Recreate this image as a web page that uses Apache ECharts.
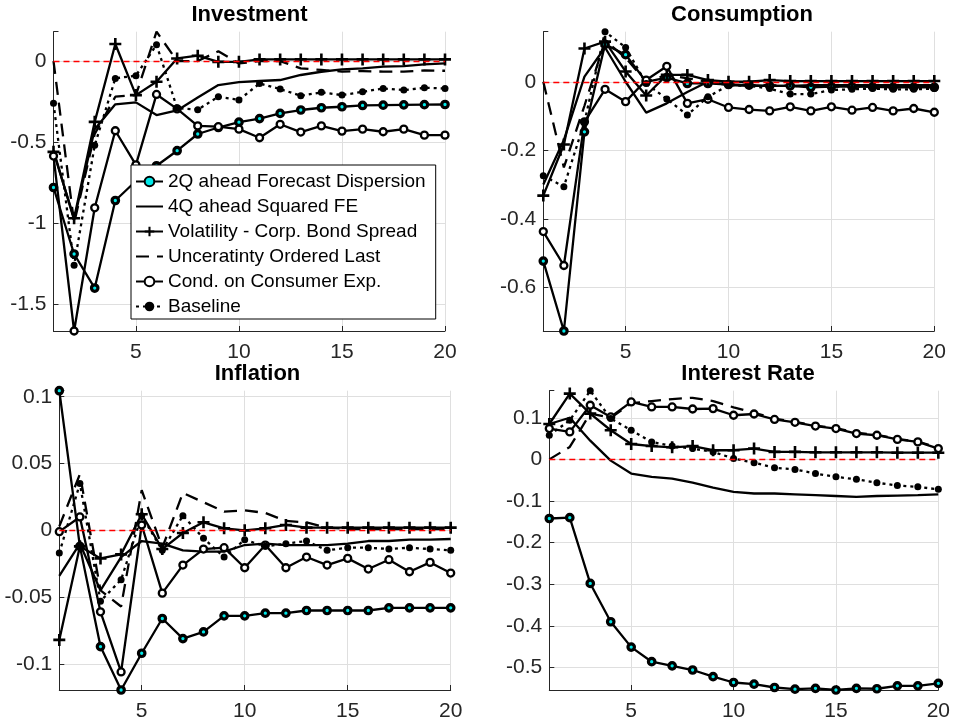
<!DOCTYPE html>
<html>
<head>
<meta charset="utf-8">
<script src="https://cdn.jsdelivr.net/npm/echarts@6/dist/echarts.min.js"></script>
<style>
html,body{margin:0;padding:0;background:#fff;}
#chart{width:953px;height:728px;}
</style>
</head>
<body>
<div id="chart"></div>
<script>
// ---------- data ----------
const periods = [1,2,3,4,5,6,7,8,9,10,11,12,13,14,15,16,17,18,19,20];
const seriesNames = ['2Q ahead Forecast Dispersion','4Q ahead Squared FE','Volatility - Corp. Bond Spread','Unceratinty Ordered Last','Cond. on Consumer Exp.','Baseline'];
const panelTitles = ['Investment','Consumption','Inflation','Interest Rate'];
const xTickStep = 5;
const yTickSteps = [0.5, 0.2, 0.05, 0.1];
const zeroLine = 0;

// Investment
const invFD2Q   = [-0.78,-1.19,-1.40,-0.86,-0.74,-0.646,-0.553,-0.45,-0.41,-0.377,-0.355,-0.323,-0.302,-0.288,-0.282,-0.274,-0.272,-0.270,-0.269,-0.268];
const invSqFE4Q = [-0.55,-0.98,-0.42,-0.267,-0.255,-0.333,-0.305,-0.225,-0.148,-0.13,-0.123,-0.117,-0.086,-0.066,-0.051,-0.045,-0.035,-0.031,-0.02,-0.014];
const invVol    = [-0.56,-0.97,-0.375,0.105,-0.21,-0.128,0.016,0.033,-0.005,-0.005,0.01,0.01,0.01,0.01,0.01,0.01,0.01,0.01,0.01,0.01];
const invUnc    = [0.0,-1.0,-0.45,-0.22,-0.21,0.181,0.0,0.0,0.06,-0.015,0.0,0.0,-0.045,-0.055,-0.065,-0.062,-0.065,-0.065,-0.058,-0.06];
const invCond   = [-0.586,-1.665,-0.905,-0.43,-0.64,-0.206,-0.295,-0.40,-0.405,-0.42,-0.473,-0.39,-0.438,-0.40,-0.432,-0.42,-0.436,-0.42,-0.457,-0.457];
const invBase   = [-0.26,-1.26,-0.52,-0.107,-0.09,0.10,-0.29,-0.30,-0.22,-0.24,-0.138,-0.173,-0.214,-0.193,-0.21,-0.19,-0.169,-0.179,-0.165,-0.169];

// Consumption
const conFD2Q   = [-0.523,-0.727,-0.146,0.109,0.079,0.0,0.012,-0.005,-0.005,-0.008,-0.01,-0.012,-0.012,-0.016,-0.014,-0.014,-0.015,-0.016,-0.016,-0.016];
const conSqFE4Q = [-0.30,-0.17,0.015,0.10,0.0,-0.09,-0.063,-0.03,0.0,-0.01,-0.012,-0.012,-0.012,-0.01,-0.01,-0.01,-0.01,-0.01,-0.01,-0.01];
const conVol    = [-0.332,-0.183,0.097,0.117,0.03,-0.04,0.02,0.02,0.005,0.0,0.0,0.005,0.002,0.002,0.002,0.002,0.002,0.002,0.002,0.002];
const conUnc    = [0.0,-0.25,-0.07,0.12,0.07,0.0,0.02,0.01,0.0,-0.005,-0.01,-0.01,-0.012,-0.014,-0.014,-0.014,-0.015,-0.015,-0.015,-0.015];
const conCond   = [-0.437,-0.536,-0.117,-0.022,-0.058,0.005,0.045,-0.063,-0.051,-0.075,-0.081,-0.085,-0.073,-0.085,-0.073,-0.083,-0.075,-0.085,-0.078,-0.089];
const conBase   = [-0.274,-0.306,-0.117,0.146,0.10,-0.005,-0.05,-0.097,-0.044,-0.01,-0.012,-0.02,-0.036,-0.036,-0.024,-0.022,-0.02,-0.022,-0.022,-0.02];

// Inflation
const infFD2Q   = [0.1045,-0.012,-0.087,-0.1195,-0.092,-0.066,-0.081,-0.076,-0.064,-0.064,-0.062,-0.062,-0.060,-0.060,-0.060,-0.060,-0.058,-0.058,-0.058,-0.058];
const infSqFE4Q = [-0.034,-0.010,-0.045,-0.02,-0.008,-0.010,-0.015,-0.016,-0.016,-0.011,-0.010,-0.011,-0.011,-0.011,-0.010,-0.008,-0.008,-0.007,-0.007,-0.0065];
const infVol    = [-0.082,-0.012,-0.021,-0.018,0.012,-0.014,-0.002,0.006,0.0015,0.0,0.0015,0.004,0.002,0.002,0.002,0.002,0.002,0.002,0.002,0.002];
const infUnc    = [0.003,0.042,-0.045,-0.057,0.030,-0.013,0.028,0.021,0.014,0.015,0.013,0.007,0.006,0.002,0.001,0.001,0.001,0.001,0.001,0.001];
const infCond   = [-0.001,0.010,-0.061,-0.106,0.004,-0.047,-0.026,-0.014,-0.013,-0.028,-0.011,-0.028,-0.020,-0.026,-0.021,-0.029,-0.022,-0.031,-0.024,-0.032];
const infBase   = [-0.017,0.035,-0.053,-0.037,0.011,-0.015,0.011,-0.006,-0.020,-0.007,-0.012,-0.010,-0.008,-0.015,-0.013,-0.013,-0.014,-0.013,-0.014,-0.015];

// Interest Rate
const irFD2Q    = [-0.142,-0.140,-0.298,-0.39,-0.451,-0.486,-0.496,-0.506,-0.522,-0.536,-0.54,-0.548,-0.552,-0.55,-0.554,-0.55,-0.551,-0.544,-0.544,-0.538];
const irSqFE4Q  = [0.085,0.10,0.045,-0.003,-0.034,-0.042,-0.046,-0.056,-0.068,-0.078,-0.082,-0.082,-0.084,-0.086,-0.088,-0.09,-0.088,-0.087,-0.086,-0.084];
const irVol     = [0.085,0.158,0.11,0.07,0.037,0.032,0.029,0.032,0.022,0.022,0.026,0.018,0.018,0.017,0.017,0.017,0.017,0.016,0.016,0.016];
const irUnc     = [0.0,0.03,0.11,0.10,0.135,0.14,0.145,0.148,0.14,0.125,0.112,0.098,0.09,0.081,0.075,0.064,0.059,0.049,0.043,0.028];
const irCond    = [0.074,0.066,0.13,0.102,0.138,0.126,0.126,0.121,0.122,0.106,0.109,0.096,0.089,0.08,0.074,0.062,0.058,0.048,0.042,0.026];
const irBase    = [0.058,0.094,0.165,0.098,0.07,0.042,0.032,0.026,0.018,0.002,-0.008,-0.02,-0.024,-0.034,-0.042,-0.048,-0.056,-0.063,-0.066,-0.072];

const panelData = [
  [invFD2Q, invSqFE4Q, invVol, invUnc, invCond, invBase],
  [conFD2Q, conSqFE4Q, conVol, conUnc, conCond, conBase],
  [infFD2Q, infSqFE4Q, infVol, infUnc, infCond, infBase],
  [irFD2Q,  irSqFE4Q,  irVol,  irUnc,  irCond,  irBase]
];

// ---------- layout & style ----------
const FONT = '"Liberation Sans", Arial, Helvetica, sans-serif';
const AXIS_COLOR = '#262626';
const GRID_COLOR = '#dfdfdf';
const LW = 2.3;
const grids = [
  {left: 53.5, top: 31.7, width: 391.5, height: 299.3},
  {left: 543.3, top: 31.7, width: 391, height: 299.3},
  {left: 59.3, top: 390.7, width: 391.4, height: 299.3},
  {left: 549.3, top: 390.7, width: 390.7, height: 299.3}
];
const titlePos = [[249.5, 15], [742, 15], [257.5, 373.5], [748, 373.5]];
const PLUS = 'path://M4.7,0H7.3V4.7H12V7.3H7.3V12H4.7V7.3H0V4.7H4.7Z';

const styles = [
  {symbol: 'circle', symbolSize: 6.5, lineStyle: {color: '#000', width: LW, type: 'solid'}, itemStyle: {color: '#00e8e8', borderColor: '#000', borderWidth: 3.2}},
  {symbol: 'none', symbolSize: 0, lineStyle: {color: '#000', width: LW, type: 'solid'}, itemStyle: {color: '#000'}},
  {symbol: PLUS, symbolSize: 12, lineStyle: {color: '#000', width: LW, type: 'solid'}, itemStyle: {color: '#000', borderWidth: 0}},
  {symbol: 'none', symbolSize: 0, lineStyle: {color: '#000', width: LW, type: [13, 8]}, itemStyle: {color: '#000'}},
  {symbol: 'circle', symbolSize: 7, lineStyle: {color: '#000', width: LW, type: 'solid'}, itemStyle: {color: '#fff', borderColor: '#000', borderWidth: 2.3}},
  {symbol: 'circle', symbolSize: 7, lineStyle: {color: '#000', width: LW, type: [3, 4]}, itemStyle: {color: '#000', borderWidth: 0}}
];

function tickFormatter(step) {
  return function (v) {
    const k = v / step;
    if (Math.abs(k - Math.round(k)) > 1e-6) return '';
    const r = parseFloat((Math.round(k) * step).toFixed(4));
    return String(r === 0 ? 0 : r);
  };
}

const xAxes = [], yAxes = [], series = [], graphics = [];
for (let p = 0; p < 4; p++) {
  const all = [].concat.apply([], panelData[p]);
  xAxes.push({
    type: 'value', gridIndex: p, min: periods[0], max: periods[periods.length - 1],
    minInterval: xTickStep, maxInterval: xTickStep,
    axisLine: {show: true, onZero: false, lineStyle: {color: AXIS_COLOR, width: 1}},
    axisTick: {show: true, inside: true, length: 5, lineStyle: {color: AXIS_COLOR}},
    axisLabel: {color: AXIS_COLOR, fontSize: 21, fontFamily: FONT, margin: 11, formatter: tickFormatter(xTickStep)},
    splitLine: {show: true, showMinLine: false, lineStyle: {color: GRID_COLOR, width: 1}}
  });
  yAxes.push({
    type: 'value', gridIndex: p, min: Math.min.apply(null, all), max: Math.max.apply(null, all),
    minInterval: yTickSteps[p], maxInterval: yTickSteps[p],
    axisLine: {show: true, onZero: false, lineStyle: {color: AXIS_COLOR, width: 1}},
    axisTick: {show: true, inside: true, length: 5, lineStyle: {color: AXIS_COLOR}},
    axisLabel: {color: AXIS_COLOR, fontSize: 21, fontFamily: FONT, margin: 7, formatter: tickFormatter(yTickSteps[p])},
    splitLine: {show: true, showMinLine: false, showMaxLine: false, lineStyle: {color: GRID_COLOR, width: 1}}
  });
  for (let s = 0; s < 6; s++) {
    const st = styles[s];
    series.push({
      name: seriesNames[s], type: 'line', xAxisIndex: p, yAxisIndex: p,
      data: periods.map((x, i) => [x, panelData[p][s][i]]),
      symbol: st.symbol, symbolSize: st.symbolSize, showSymbol: st.symbol !== 'none',
      lineStyle: st.lineStyle, itemStyle: st.itemStyle,
      emphasis: {disabled: true}, silent: true, animation: false, z: 2
    });
  }
  series.push({
    name: 'zero' + p, type: 'line', xAxisIndex: p, yAxisIndex: p, data: [],
    silent: true, animation: false,
    markLine: {
      silent: true, symbol: ['none', 'none'], animation: false, label: {show: false},
      lineStyle: {color: '#ff0000', width: 1.3, type: [6, 4]},
      data: [{yAxis: zeroLine}]
    }
  });
  graphics.push({
    type: 'text', x: titlePos[p][0], y: titlePos[p][1], silent: true,
    style: {text: panelTitles[p], fill: '#000', font: 'bold 22px ' + FONT, textAlign: 'center', textVerticalAlign: 'middle'}
  });
}

const legendItems = seriesNames.map((n, i) =>
  styles[i].symbol === 'none'
    ? {name: n, itemStyle: {color: 'rgba(0,0,0,0)', borderWidth: 0, opacity: 0}}
    : {name: n}
);

const chart = echarts.init(document.getElementById('chart'), null, {renderer: 'canvas'});
chart.setOption({
  backgroundColor: '#ffffff',
  animation: false,
  grid: grids,
  xAxis: xAxes,
  yAxis: yAxes,
  series: series,
  graphic: graphics,
  legend: {
    data: legendItems, orient: 'vertical', left: 131, top: 165,
    backgroundColor: '#ffffff', borderColor: '#000', borderWidth: 1,
    padding: [7, 10, 3, 4], itemGap: 6, itemWidth: 27, itemHeight: 12,
    selectedMode: false,
    textStyle: {fontSize: 19, color: '#000', fontFamily: FONT, lineHeight: 19}
  }
});
</script>
</body>
</html>
